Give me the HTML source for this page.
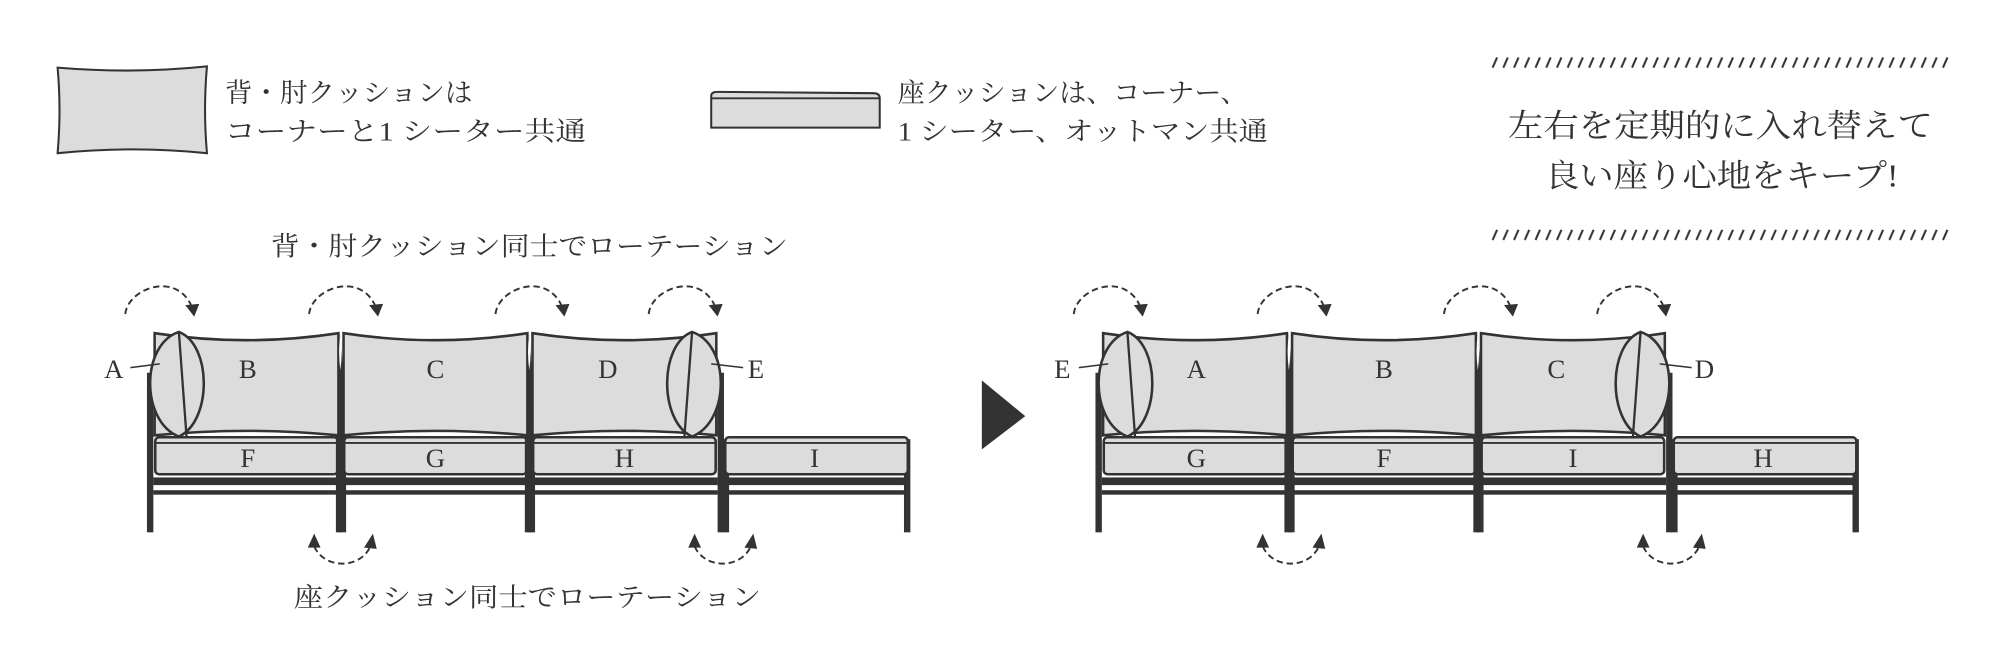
<!DOCTYPE html>
<html><head><meta charset="utf-8"><style>
html,body{margin:0;padding:0;background:#fff;}
svg{display:block}
text{font-family:"Liberation Serif","Noto Serif CJK SC",serif;fill:#333;}
</style></head><body>
<svg width="2002" height="660" viewBox="0 0 1568 517" xmlns="http://www.w3.org/2000/svg">
<defs>
<pattern id="hatch1" x="0" y="44" width="8.4" height="10" patternUnits="userSpaceOnUse">
<line x1="1.5" y1="9" x2="5" y2="1" stroke="#333" stroke-width="1.6"/>
</pattern>
<pattern id="hatch2" x="0" y="179" width="8.4" height="10" patternUnits="userSpaceOnUse">
<line x1="1.5" y1="9" x2="5" y2="1" stroke="#333" stroke-width="1.6"/>
</pattern>
<g id="mod">
<rect x="-5" y="292" width="5" height="125" fill="#333"/>
<rect x="146" y="292" width="5" height="125" fill="#333"/>
<rect x="0" y="374" width="146" height="6" fill="#333"/>
<rect x="0" y="384" width="146" height="3.5" fill="#333"/>
<rect x="1.5" y="342.5" width="143" height="29" rx="3" fill="#dcdcdc" stroke="#333" stroke-width="2"/>
<line x1="2" y1="347" x2="144" y2="347" stroke="#333" stroke-width="1.5"/>
</g>
<g id="otto">
<rect x="0" y="344" width="5" height="73" fill="#333"/>
<rect x="142" y="344" width="5" height="73" fill="#333"/>
<rect x="2" y="374" width="142" height="6" fill="#333"/>
<rect x="2" y="384" width="142" height="3.5" fill="#333"/>
<rect x="2" y="342.5" width="143" height="29" rx="3" fill="#dcdcdc" stroke="#333" stroke-width="2"/>
<line x1="3" y1="347" x2="144" y2="347" stroke="#333" stroke-width="1.5"/>
</g>
<g id="back">
<path d="M1,261 Q73,272 145,261 L145,341 Q73,334 1,341 Z" fill="#dcdcdc" stroke="#333" stroke-width="2"/>
</g>
<g id="post">
<path d="M0,262 Q-4,300 0,342 Q4,300 0,262 Z" fill="#333"/>
<path d="M0,262 Q-2,275 0,290 Q2,275 0,262 Z" fill="#fff"/>
</g>
<g id="pillowL">
<path d="M140,260 C110,270 110,330 140,342 C166,330 166,270 140,260 Z" fill="#dcdcdc" stroke="#333" stroke-width="2"/>
<line x1="140" y1="260" x2="146" y2="342" stroke="#333" stroke-width="1.8"/>
</g>
<g id="topArr">
<path d="M0,246 C2,226 40,212 52,240" fill="none" stroke="#333" stroke-width="1.5" stroke-dasharray="5,3"/>
<path d="M47,239 L58,238 L54,248 Z" fill="#333"/>
</g>
<g id="botArr">
<path d="M-22,428 C-14,446 14,446 22,428" fill="none" stroke="#333" stroke-width="1.5" stroke-dasharray="5,3"/>
<path d="M-27,429 L-22,418 L-17,429 Z" fill="#333"/>
<path d="M17,429 L24,418 L27,430 Z" fill="#333"/>
</g>
<g id="sofa">
<use href="#mod" x="120"/><use href="#mod" x="268"/><use href="#mod" x="416"/>
<use href="#otto" x="566"/>
<use href="#back" x="120"/><use href="#back" x="268"/><use href="#back" x="416"/>
<use href="#post" x="266.5"/><use href="#post" x="414.5"/>
<use href="#pillowL"/>
<g transform="translate(682,0) scale(-1,1)"><use href="#pillowL"/></g>
<line x1="102" y1="288" x2="125" y2="285" stroke="#333" stroke-width="1.2"/>
<line x1="557" y1="285" x2="582" y2="288" stroke="#333" stroke-width="1.2"/>
<use href="#topArr" x="98"/><use href="#topArr" x="242"/><use href="#topArr" x="388"/><use href="#topArr" x="508"/>
<use href="#botArr" x="268"/><use href="#botArr" x="566"/>
</g>
</defs>

<!-- legend -->
<path d="M45,53 Q104,58 162,52 Q159,86 162,120 Q104,114 45,120 Q48,86 45,53 Z" fill="#dcdcdc" stroke="#333" stroke-width="1.6"/>
<text x="176" y="80" font-size="21" textLength="194" lengthAdjust="spacingAndGlyphs">背・肘クッションは</text>
<text x="176" y="110" font-size="21" textLength="283" lengthAdjust="spacingAndGlyphs">コーナーと1 シーター共通</text>
<path d="M557,75 Q557,72 562,72 L684,73 Q689,73 689,77 L689,100 L557,100 Z" fill="#dcdcdc" stroke="#333" stroke-width="1.6"/>
<line x1="557" y1="77" x2="689" y2="77" stroke="#333" stroke-width="1.4"/>
<text x="703" y="80" font-size="21" textLength="274" lengthAdjust="spacingAndGlyphs">座クッションは、コーナー、</text>
<text x="703" y="110" font-size="21" textLength="290" lengthAdjust="spacingAndGlyphs">1 シーター、オットマン共通</text>

<rect x="1168" y="44" width="360" height="10" fill="url(#hatch1)"/>
<rect x="1168" y="179" width="360" height="10" fill="url(#hatch2)"/>
<text x="1181" y="107" font-size="25" textLength="333" lengthAdjust="spacingAndGlyphs">左右を定期的に入れ替えて</text>
<text x="1210" y="146" font-size="25" textLength="277" lengthAdjust="spacingAndGlyphs">良い座り心地をキープ!</text>

<text x="212" y="200" font-size="21" textLength="405" lengthAdjust="spacingAndGlyphs">背・肘クッション同士でローテーション</text>
<text x="230" y="475" font-size="21" textLength="366" lengthAdjust="spacingAndGlyphs">座クッション同士でローテーション</text>

<use href="#sofa"/>
<g font-size="21" text-anchor="middle">
<text x="89" y="296">A</text><text x="194" y="296">B</text><text x="341" y="296">C</text><text x="476" y="296">D</text><text x="592" y="296">E</text>
<text x="194" y="366">F</text><text x="341" y="366">G</text><text x="489" y="366">H</text><text x="638" y="366">I</text>
</g>

<path d="M769,298 L803,326 L769,352 Z" fill="#333"/>

<use href="#sofa" x="743"/>
<g font-size="21" text-anchor="middle">
<text x="832" y="296">E</text><text x="937" y="296">A</text><text x="1084" y="296">B</text><text x="1219" y="296">C</text><text x="1335" y="296">D</text>
<text x="937" y="366">G</text><text x="1084" y="366">F</text><text x="1232" y="366">I</text><text x="1381" y="366">H</text>
</g>
</svg>
</body></html>
